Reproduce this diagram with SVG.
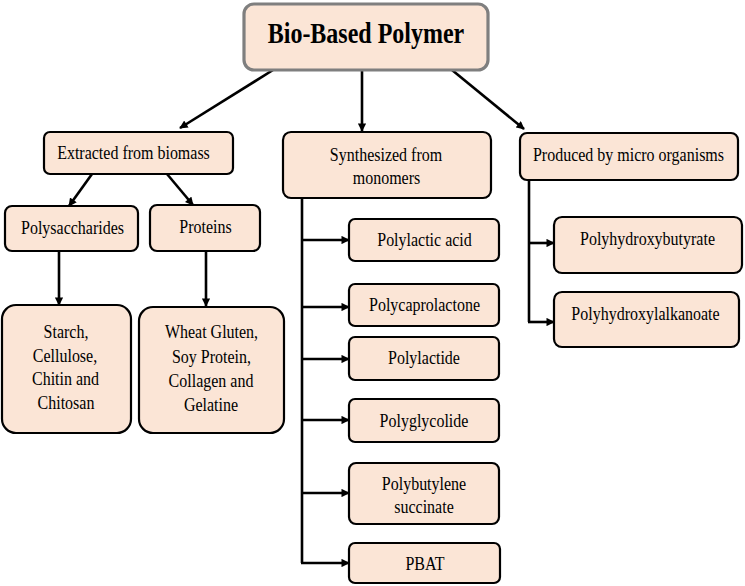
<svg xmlns="http://www.w3.org/2000/svg" width="745" height="586" viewBox="0 0 745 586">
<style>
.box{fill:#fbe5d6;stroke:#000;stroke-width:2.2}
text{font-family:'Liberation Serif','Times New Roman',Times,serif;font-size:16px;fill:#000;text-anchor:middle}
text.title{font-size:24px;font-weight:bold}
.conn{stroke:#000;stroke-width:2.6;fill:none}
</style>
<defs>
<marker id="ah" viewBox="0 0 10 10" refX="9" refY="5" markerWidth="3.4" markerHeight="3.2" orient="auto" markerUnits="strokeWidth">
<path d="M0,0 L10,5 L0,10 z" fill="#000"/>
</marker>
</defs>
<rect width="745" height="586" fill="#fff"/>
<g id="connectors">
<line class="conn" x1="273" y1="70" x2="180" y2="128" marker-end="url(#ah)"/>
<line class="conn" x1="362" y1="71" x2="362" y2="131" marker-end="url(#ah)"/>
<line class="conn" x1="452" y1="70" x2="524" y2="129" marker-end="url(#ah)"/>
<line class="conn" x1="92" y1="174" x2="69" y2="206" marker-end="url(#ah)"/>
<line class="conn" x1="167" y1="174" x2="193" y2="205" marker-end="url(#ah)"/>
<line class="conn" x1="59" y1="251" x2="59" y2="305" marker-end="url(#ah)"/>
<line class="conn" x1="206" y1="251" x2="206" y2="306" marker-end="url(#ah)"/>
<path class="conn" d="M302,198 V563"/>
<line class="conn" x1="301" y1="240" x2="349" y2="240" marker-end="url(#ah)"/>
<line class="conn" x1="301" y1="307" x2="349" y2="307" marker-end="url(#ah)"/>
<line class="conn" x1="301" y1="359" x2="349" y2="359" marker-end="url(#ah)"/>
<line class="conn" x1="301" y1="420" x2="349" y2="420" marker-end="url(#ah)"/>
<line class="conn" x1="301" y1="493" x2="349" y2="493" marker-end="url(#ah)"/>
<line class="conn" x1="301" y1="563" x2="349" y2="563" marker-end="url(#ah)"/>
<path class="conn" d="M529,180 V322"/>
<line class="conn" x1="528" y1="243" x2="554" y2="243" marker-end="url(#ah)"/>
<line class="conn" x1="528" y1="322" x2="554" y2="322" marker-end="url(#ah)"/>
</g>
<g id="n-title">
<rect x="244" y="4" width="244" height="66" rx="10" fill="#fbe5d6" stroke="#7f7f7f" stroke-width="3.2"/>
<text class="title" transform="translate(366,43) scale(1,1.21)">Bio-Based Polymer</text>
</g>
<g id="n-extracted">
<rect class="box" x="44" y="132" width="189" height="42" rx="6"/>
<text transform="translate(133.5,159) scale(1,1.22)">Extracted from biomass</text>
</g>
<g id="n-synth">
<rect class="box" x="283" y="132" width="208" height="66" rx="8"/>
<text transform="translate(386,161) scale(1,1.22)">Synthesized from</text>
<text transform="translate(386.5,184) scale(1,1.22)">monomers</text>
</g>
<g id="n-produced">
<rect class="box" x="520" y="133" width="218" height="47" rx="7"/>
<text transform="translate(628.5,161) scale(1,1.22)">Produced by micro organisms</text>
</g>
<g id="n-polysacch">
<rect class="box" x="5" y="206" width="133" height="45" rx="7"/>
<text transform="translate(72.5,234) scale(1,1.22)">Polysaccharides</text>
</g>
<g id="n-proteins">
<rect class="box" x="150" y="205" width="110" height="46" rx="7"/>
<text transform="translate(205.5,233) scale(1,1.22)">Proteins</text>
</g>
<g id="n-starch">
<rect class="box" x="2" y="305" width="129" height="128" rx="14"/>
<text transform="translate(66,338) scale(1,1.22)">Starch,</text>
<text transform="translate(65,362) scale(1,1.22)">Cellulose,</text>
<text transform="translate(65.5,385) scale(1,1.22)">Chitin and</text>
<text transform="translate(66,409) scale(1,1.22)">Chitosan</text>
</g>
<g id="n-wheat">
<rect class="box" x="139" y="307" width="145" height="126" rx="14"/>
<text transform="translate(211.5,338) scale(1,1.22)">Wheat Gluten,</text>
<text transform="translate(211.5,363) scale(1,1.22)">Soy Protein,</text>
<text transform="translate(211,387) scale(1,1.22)">Collagen and</text>
<text transform="translate(211,411) scale(1,1.22)">Gelatine</text>
</g>
<g id="n-pla">
<rect class="box" x="349" y="219" width="150" height="42" rx="6"/>
<text transform="translate(424.5,246) scale(1,1.22)">Polylactic acid</text>
</g>
<g id="n-pcl">
<rect class="box" x="349" y="284" width="150" height="42" rx="6"/>
<text transform="translate(424.5,311) scale(1,1.22)">Polycaprolactone</text>
</g>
<g id="n-plt">
<rect class="box" x="349" y="337" width="150" height="43" rx="6"/>
<text transform="translate(424,364) scale(1,1.22)">Polylactide</text>
</g>
<g id="n-pgl">
<rect class="box" x="349" y="399" width="150" height="43" rx="6"/>
<text transform="translate(424,427) scale(1,1.22)">Polyglycolide</text>
</g>
<g id="n-pbs">
<rect class="box" x="349" y="463" width="150" height="61" rx="7"/>
<text transform="translate(424,490) scale(1,1.22)">Polybutylene</text>
<text transform="translate(424,513) scale(1,1.22)">succinate</text>
</g>
<g id="n-pbat">
<rect class="box" x="349" y="543" width="151" height="40" rx="6"/>
<text transform="translate(425,570) scale(1,1.22)">PBAT</text>
</g>
<g id="n-phb">
<rect class="box" x="554" y="217" width="188" height="56" rx="8"/>
<text transform="translate(647.5,245) scale(1,1.22)">Polyhydroxybutyrate</text>
</g>
<g id="n-pha">
<rect class="box" x="554" y="292" width="185" height="55" rx="8"/>
<text transform="translate(645.5,320) scale(1,1.22)">Polyhydroxylalkanoate</text>
</g>
</svg>
